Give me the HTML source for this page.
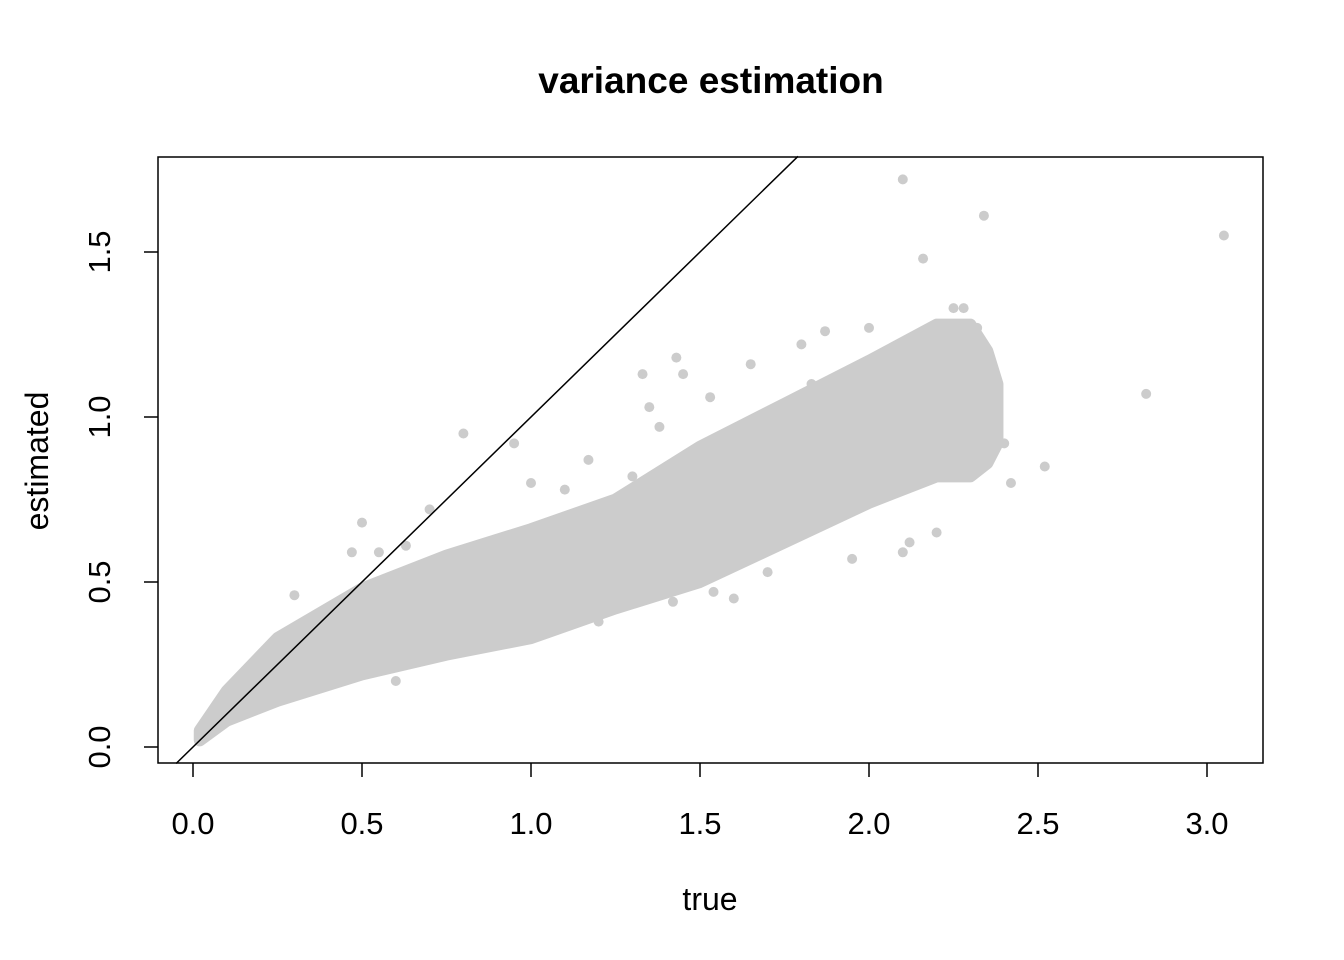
<!DOCTYPE html>
<html><head><meta charset="utf-8"><style>
body{margin:0;background:#fff;}
svg{display:block;font-family:"Liberation Sans",sans-serif;}
</style></head><body>
<svg id="chart" width="1344" height="960">
<text x="711" y="93" text-anchor="middle" font-size="37" font-weight="bold">variance estimation</text>
<g id="plot"></g>
<rect x="158" y="157" width="1105" height="606" fill="none" stroke="#000" stroke-width="1.5"/>
<text x="710" y="910" text-anchor="middle" font-size="32">true</text>
<text transform="translate(48,461) rotate(-90)" text-anchor="middle" font-size="32">estimated</text>
<g id="axes"></g>
</svg>
<script>
const bandX = [0.02,0.1,0.25,0.5,0.75,1.0,1.25,1.5,1.75,2.0,2.2,2.3,2.35,2.38];
const bandLow = [0.02,0.08,0.14,0.22,0.28,0.33,0.42,0.5,0.62,0.74,0.82,0.82,0.86,0.92];
const bandHigh = [0.05,0.17,0.33,0.48,0.58,0.66,0.75,0.91,1.04,1.17,1.28,1.28,1.2,1.1];
const outX = [2.1,2.34,3.05,2.16,2.82,2.52,2.42,0.8,0.95,1.43,1.33,1.45,1.53,1.65,1.87,2.0,1.35,1.38,0.5,0.55,1.95,2.1,1.17,1.6,1.54,2.25,2.28,0.3,0.7,1.0,1.8,2.4,2.38,0.47,0.63,1.1,1.3,1.72,1.83,2.05,2.12,2.2,0.6,0.85,1.2,1.42,1.7,2.32];
const outY = [1.72,1.61,1.55,1.48,1.07,0.85,0.80,0.95,0.92,1.18,1.13,1.13,1.06,1.16,1.26,1.27,1.03,0.97,0.68,0.59,0.57,0.59,0.87,0.45,0.47,1.33,1.33,0.46,0.72,0.80,1.22,0.92,1.02,0.59,0.61,0.78,0.82,1.0,1.1,1.2,0.62,0.65,0.2,0.3,0.38,0.44,0.53,1.27];
const xTicks = [0,0.5,1.0,1.5,2.0,2.5,3.0];
const xTickLabels = ["0.0","0.5","1.0","1.5","2.0","2.5","3.0"];
const yTicks = [0,0.5,1.0,1.5];
const yTickLabels = ["0.0","0.5","1.0","1.5"];

const sx = v => 193 + v*338;
const sy = v => 747 - v*330;
const NS = "http://www.w3.org/2000/svg";
const plot = document.getElementById('plot');
const axes = document.getElementById('axes');
function mk(tag, attrs, parent){const e=document.createElementNS(NS,tag);for(const k in attrs)e.setAttribute(k,attrs[k]);parent.appendChild(e);return e;}

let pts = bandX.map((x,i)=>sx(x)+','+sy(bandHigh[i]));
for(let i=bandX.length-1;i>=0;i--) pts.push(sx(bandX[i])+','+sy(bandLow[i]));
const band = mk('polygon',{points:pts.join(' '),fill:'#cccccc',stroke:'#cccccc','stroke-width':12,'stroke-linejoin':'round'},plot);



outX.forEach((x,i)=>{
  const c = mk('circle',{cx:sx(x),cy:sy(outY[i]),r:5,fill:'#cccccc'},plot);
  
  
});

const lo=-0.05, hi=1.79;
const ln = mk('line',{x1:sx(lo),y1:sy(lo),x2:sx(hi),y2:sy(hi),stroke:'#000','stroke-width':1.5},plot);



xTicks.forEach((t,i)=>{
  const tk = mk('line',{x1:sx(t),y1:763,x2:sx(t),y2:777,stroke:'#000','stroke-width':1.5},axes);
  
  
  const tx = mk('text',{x:sx(t),y:834,'text-anchor':'middle','font-size':31},axes);
  tx.textContent = xTickLabels[i];
  
  
});
yTicks.forEach((t,i)=>{
  const tk = mk('line',{x1:144,y1:sy(t),x2:158,y2:sy(t),stroke:'#000','stroke-width':1.5},axes);
  
  
  const tx = mk('text',{transform:`translate(110,${sy(t)}) rotate(-90)`,'text-anchor':'middle','font-size':31},axes);
  tx.textContent = yTickLabels[i];
  
  
});
</script>
</body></html>
